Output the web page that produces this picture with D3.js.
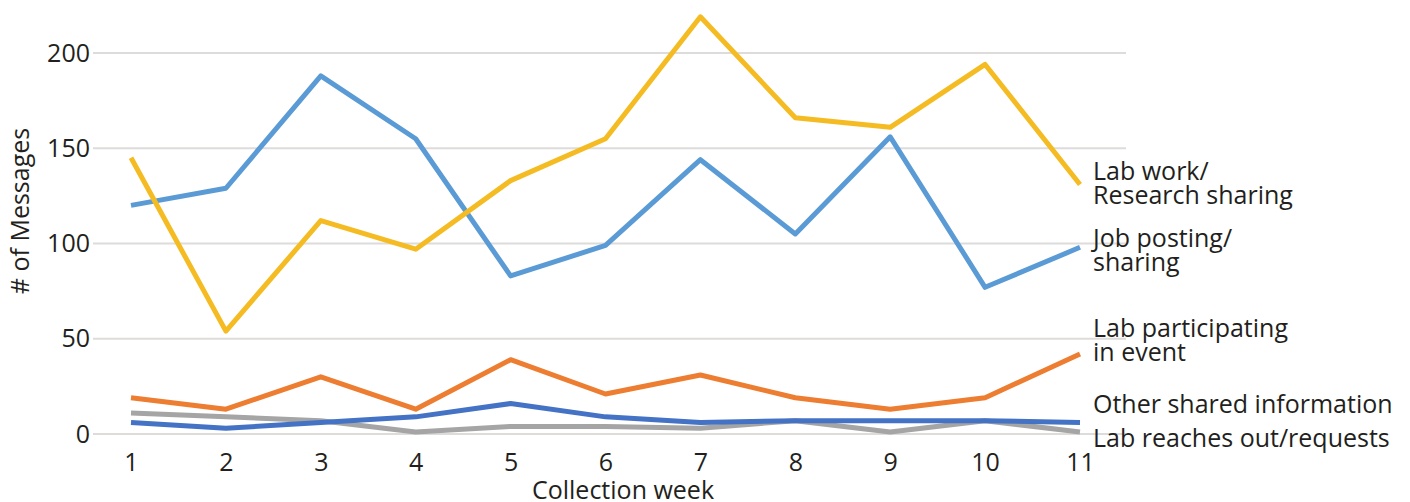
<!DOCTYPE html>
<html>
<head>
<meta charset="utf-8">
<script src="https://cdn.jsdelivr.net/npm/d3@7"></script>
<style>
  html, body { margin: 0; padding: 0; background: #fff; }
  svg { display: block; }
  text { font-family: "Open Sans", Lato, sans-serif; fill: #231f20; }
</style>
</head>
<body>
<svg id="chart" width="1410" height="502"></svg>
<script>
// Weekly message counts by category
const weeks = [1, 2, 3, 4, 5, 6, 7, 8, 9, 10, 11];
const jobPosting      = [120, 129, 188, 155, 83, 99, 144, 105, 156, 77, 98];
const labEvent        = [19, 13, 30, 13, 39, 21, 31, 19, 13, 19, 42];
const labReaches      = [11, 9, 7, 1, 4, 4, 3, 7, 1, 7, 1];
const labWork         = [145, 54, 112, 97, 133, 155, 219, 166, 161, 194, 131];
const otherShared     = [6, 3, 6, 9, 16, 9, 6, 7, 7, 7, 6];
const yTicks = [0, 50, 100, 150, 200];

const FONT = 25;

const series = [
  { name: ["Job posting/", "sharing"], values: jobPosting, color: "#5b9bd5", labelY: 247 },
  { name: ["Lab participating", "in event"], values: labEvent, color: "#ed7d31", labelY: 337 },
  { name: ["Lab reaches out/requests"], values: labReaches, color: "#a5a5a5", labelY: 447 },
  { name: ["Lab work/", "Research sharing"], values: labWork, color: "#f5bb22", labelY: 180 },
  { name: ["Other shared information"], values: otherShared, color: "#4472c4", labelY: 413 }
];

const svg = d3.select("#chart");
const x = d3.scaleLinear().domain([1, 11]).range([131, 1080]);
const y = d3.scaleLinear().domain([0, 200]).range([434, 53]);
const gridLeft = 93, gridRight = 1126;

// Horizontal gridlines
svg.append("g")
  .selectAll("line")
  .data(yTicks)
  .join("line")
  .attr("x1", gridLeft).attr("x2", gridRight)
  .attr("y1", d => y(d)).attr("y2", d => y(d))
  .attr("stroke", "#dedcdb").attr("stroke-width", 2);

// Y axis labels
const yAxis = d3.axisLeft(y).tickValues(yTicks).tickSize(0).tickPadding(0);
const gy = svg.append("g").attr("transform", `translate(${gridLeft - 3},0)`).call(yAxis);
gy.select(".domain").remove();
gy.selectAll("text").attr("font-size", FONT).attr("font-family", "'Open Sans', sans-serif").attr("fill", "#231f20");

// X axis labels
const xAxis = d3.axisBottom(x).tickValues(weeks).tickSize(0).tickPadding(0);
const gx = svg.append("g").attr("transform", `translate(0,453)`).call(xAxis);
gx.select(".domain").remove();
gx.selectAll("text").attr("font-size", FONT).attr("font-family", "'Open Sans', sans-serif").attr("fill", "#231f20");

// Axis titles
svg.append("text")
  .attr("x", 623).attr("y", 499)
  .attr("text-anchor", "middle")
  .attr("font-size", FONT)
  .text("Collection week");

svg.append("text")
  .attr("transform", "translate(29,211) rotate(-90)")
  .attr("text-anchor", "middle")
  .attr("font-size", FONT)
  .text("# of Messages");

// Lines
const line = d3.line().x((d, i) => x(weeks[i])).y(d => y(d));
svg.append("g")
  .selectAll("path")
  .data(series)
  .join("path")
  .attr("d", d => line(d.values))
  .attr("fill", "none")
  .attr("stroke", d => d.color)
  .attr("stroke-width", 5)
  .attr("stroke-linejoin", "round");

// Series labels at the right end, one text element per line
const labels = svg.append("g");
series.forEach(s => {
  s.name.forEach((part, i) => {
    labels.append("text")
      .attr("x", 1093).attr("y", s.labelY + i * 24)
      .attr("font-size", FONT)
      .text(part);
  });
});
</script>
</body>
</html>
